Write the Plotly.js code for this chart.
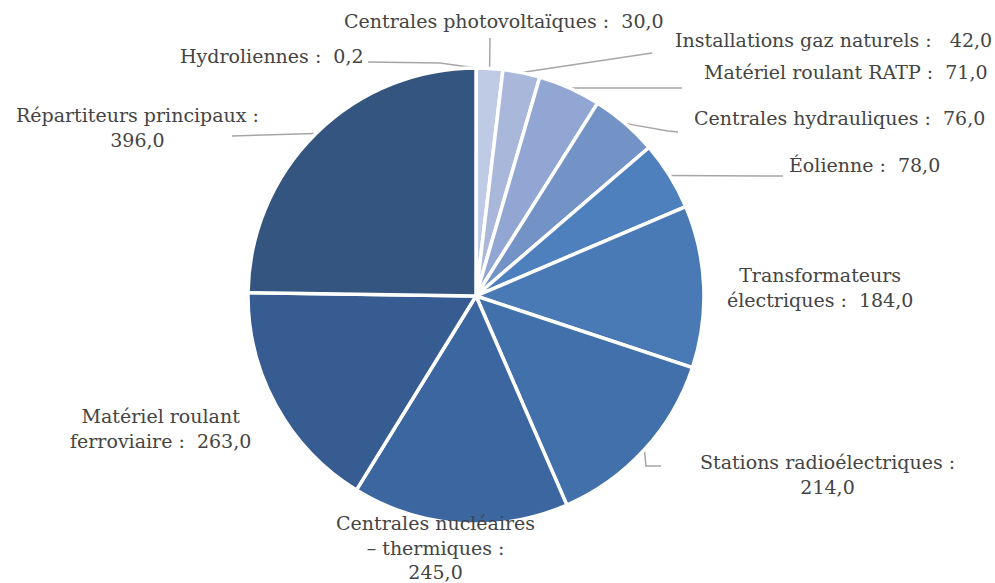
<!DOCTYPE html>
<html>
<head>
<meta charset="utf-8">
<script src="https://cdn.plot.ly/plotly-3.0.1.min.js"></script>
<style>html,body{margin:0;padding:0;background:#fff;}#chart{width:995px;height:583px;}</style>
</head>
<body>
<div id="chart"></div>
<script>
const categories = [
  "Hydroliennes",
  "Centrales photovoltaïques",
  "Installations gaz naturels",
  "Matériel roulant RATP",
  "Centrales hydrauliques",
  "Éolienne",
  "Transformateurs électriques",
  "Stations radioélectriques",
  "Centrales nucléaires – thermiques",
  "Matériel roulant ferroviaire",
  "Répartiteurs principaux"
];
const values = [0.2, 30, 42, 71, 76, 78, 184, 214, 245, 263, 396];
const labelTexts = [
  "Hydroliennes :  0,2",
  "Centrales photovoltaïques :  30,0",
  "Installations gaz naturels :   42,0",
  "Matériel roulant RATP :  71,0",
  "Centrales hydrauliques :  76,0",
  "Éolienne :  78,0",
  "Transformateurs<br>électriques :  184,0",
  "Stations radioélectriques :<br>214,0",
  "Centrales nucléaires<br>– thermiques :<br>245,0",
  "Matériel roulant<br>ferroviaire :  263,0",
  "Répartiteurs principaux :<br>396,0"
];
const colors = ["#c9d3ea","#bfcae4","#a9b8da","#91a6d3","#7392c5","#4f80be","#4a7ab5","#4170aa","#3c66a0","#375c91","#34557f"];

const W = 995, H = 583;
const CX = 476, CY = 296, R = 228;
// label centres (px) and leader elbows (px), layout only
const labelPos = [
  [272, 56], [504, 21], [833, 40], [846, 72], [839, 118], [864, 165],
  [820, 287], [827, 474], [435, 547], [160, 429], [137, 127]
];
const leaderElbows = [
  [[368, 62], [440, 63]],
  [[490, 38]],
  [[652, 53]],
  [[682, 88]],
  [[678, 132], [668, 131]],
  [[783, 176]],
  null,
  [[661, 466], [646, 466]],
  null,
  null,
  [[232, 136]]
];

const px = x => x / W;
const py = y => 1 - y / H;

const total = values.reduce((a, b) => a + b, 0);
let cum = 0;
const shapes = [];
values.forEach((v, i) => {
  const mid = (cum + v / 2) / total * 2 * Math.PI;
  cum += v;
  const el = leaderElbows[i];
  if (!el) return;
  const sx = CX + R * Math.sin(mid), sy = CY - R * Math.cos(mid);
  const pts = el.concat([[sx, sy]]);
  const path = pts.map((p, k) => (k ? "L" : "M") + px(p[0]).toFixed(5) + "," + py(p[1]).toFixed(5)).join(" ");
  shapes.push({type: "path", xref: "paper", yref: "paper", path: path,
    line: {color: "#a6a6a6", width: 1.5}, layer: "below"});
});

const annotations = labelTexts.map((t, i) => ({
  text: t, xref: "paper", yref: "paper",
  x: px(labelPos[i][0]), y: py(labelPos[i][1]),
  xanchor: "center", yanchor: "middle", showarrow: false, align: "center",
  font: {family: "DejaVu Serif, serif", size: 19, color: "#444444"}
}));

const trace = {
  type: "pie",
  labels: categories,
  values: values,
  sort: false,
  direction: "clockwise",
  rotation: 0,
  textinfo: "none",
  hoverinfo: "label+value",
  marker: {colors: colors, line: {color: "#ffffff", width: 3.5}},
  domain: {x: [px(CX - R), px(CX + R)], y: [py(CY + R), py(CY - R)]},
  showlegend: false
};

Plotly.newPlot("chart", [trace], {
  width: W, height: H,
  margin: {l: 0, r: 0, t: 0, b: 0},
  paper_bgcolor: "#ffffff",
  showlegend: false,
  shapes: shapes,
  annotations: annotations
}, {displayModeBar: false, staticPlot: true});
</script>
</body>
</html>
